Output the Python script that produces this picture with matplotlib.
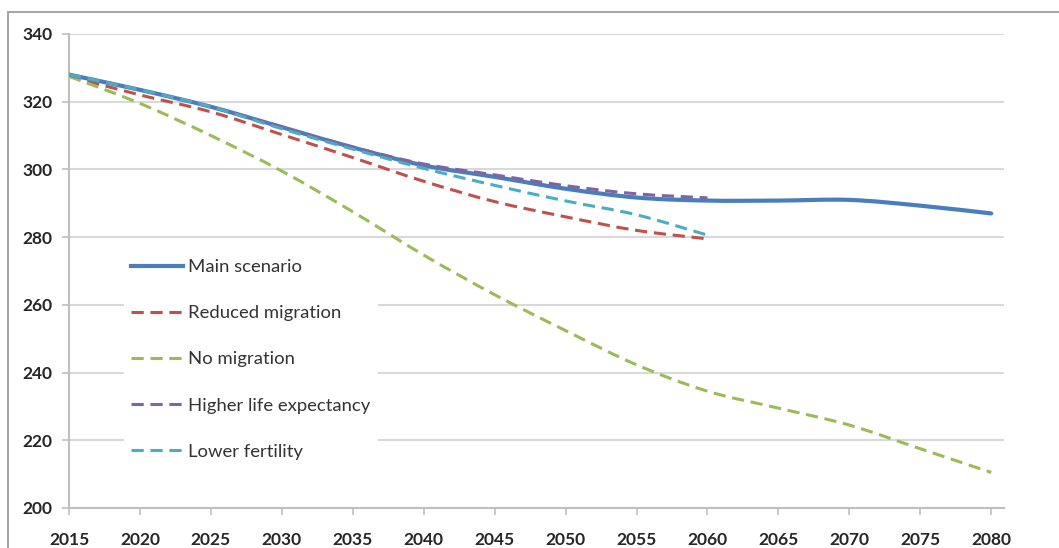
import matplotlib
matplotlib.use("Agg")
import matplotlib.pyplot as plt
from matplotlib.patches import Rectangle, PathPatch
from matplotlib.path import Path
from matplotlib.lines import Line2D

# Population projections (thousands) by scenario
years = [2015, 2020, 2025, 2030, 2035, 2040, 2045, 2050, 2055, 2060, 2065, 2070, 2075, 2080]
years_short = years[:10]

main_scenario = [328, 323.5, 318.5, 312.5, 306.5, 301.2, 297.8, 294.3, 291.7, 290.8, 290.8, 291, 289.3, 287]
reduced_migration = [327.5, 322, 317, 310.3, 303.5, 296.5, 290.5, 286, 282, 279.5]
no_migration = [327.5, 319.5, 310, 299.5, 287.5, 274.7, 263, 252.4, 242.3, 234.5, 229.5, 224.5, 217.5, 210.5]
higher_life = [328, 323.5, 318.5, 312.5, 306.6, 301.6, 298.4, 295.2, 292.8, 291.6]
lower_fertility = [328, 323.5, 318.5, 312, 306, 300.3, 295.3, 290.7, 286.6, 280.6]

labels = ["Main scenario", "Reduced migration", "No migration",
          "Higher life expectancy", "Lower fertility"]
y_ticks = [200, 220, 240, 260, 280, 300, 320, 340]
x_ticks = list(range(2015, 2081, 5))


def smooth_path(xs, ys):
    # Excel-style smoothed line: cubic Bezier through every data point
    verts = [(xs[0], ys[0])]
    codes = [Path.MOVETO]
    n = len(xs)
    for i in range(n - 1):
        x0, y0 = (xs[i - 1], ys[i - 1]) if i > 0 else (xs[i], ys[i])
        x3, y3 = (xs[i + 2], ys[i + 2]) if i + 2 < n else (xs[i + 1], ys[i + 1])
        c1 = (xs[i] + (xs[i + 1] - x0) / 6, ys[i] + (ys[i + 1] - y0) / 6)
        c2 = (xs[i + 1] - (x3 - xs[i]) / 6, ys[i + 1] - (y3 - ys[i]) / 6)
        verts += [c1, c2, (xs[i + 1], ys[i + 1])]
        codes += [Path.CURVE4] * 3
    return Path(verts, codes)


plt.rcParams["font.family"] = ["Lato", "DejaVu Sans"]

fig = plt.figure(figsize=(10.59, 5.48), dpi=100)
ax = fig.add_axes([69 / 1059, 1 - 508 / 548, (1004 - 69) / 1059, (508 - 34) / 548])

# outer chart border (cut off on the right and bottom)
fig.patches.append(Rectangle((8 / 1059, -0.05), 1.1, 1 - 12 / 548 + 0.05,
                             transform=fig.transFigure, fill=False,
                             edgecolor="#a6a6a6", linewidth=1.5))

dash = (4, 2.2)
series = [
    (years, main_scenario, "#4a7ebb", 3.0, "-", 3),
    (years_short, reduced_migration, "#c0504d", 2.2, (0, dash), 2),
    (years, no_migration, "#9bbb59", 2.2, (0, dash), 2),
    (years_short, higher_life, "#8064a2", 2.2, (0, dash), 4),
    (years_short, lower_fertility, "#4bacc6", 2.2, (0, dash), 4),
]
handles = []
for (xs, ys, col, lw, ls, z), lab in zip(series, labels):
    ax.add_patch(PathPatch(smooth_path(xs, ys), facecolor="none", edgecolor=col,
                           lw=lw, ls=ls, zorder=z, capstyle="round" if ls == "-" else "butt"))
    handles.append(Line2D([], [], color=col, lw=lw, ls=ls, label=lab))

ax.set_xlim(2015, 2080.9)
ax.set_ylim(200, 340)
ax.set_xticks(x_ticks)
ax.set_yticks(y_ticks)
ax.grid(axis="y", color="#d9d9d9", lw=1.5)
ax.set_axisbelow(True)

for s in ["top", "right"]:
    ax.spines[s].set_visible(False)
for s in ["left", "bottom"]:
    ax.spines[s].set_color("#bfbfbf")
    ax.spines[s].set_linewidth(1.5)

ax.tick_params(axis="both", direction="out", length=5, width=1.2, color="#bfbfbf",
               labelsize=12.5, labelcolor="#262626")
ax.tick_params(axis="x", pad=12)
ax.tick_params(axis="y", pad=7)
for lab in ax.get_xticklabels() + ax.get_yticklabels():
    lab.set_fontweight("bold")

leg = ax.legend(handles=handles, loc="upper left", bbox_to_anchor=(0.049, 0.56), frameon=True,
                fancybox=False, edgecolor="none", facecolor="white", framealpha=1,
                prop={"size": 13.3}, handlelength=2.8, handletextpad=0.28,
                labelspacing=1.63, borderpad=0.4)
for t in leg.get_texts():
    t.set_color("#333333")

plt.savefig("out.png", dpi=100)
